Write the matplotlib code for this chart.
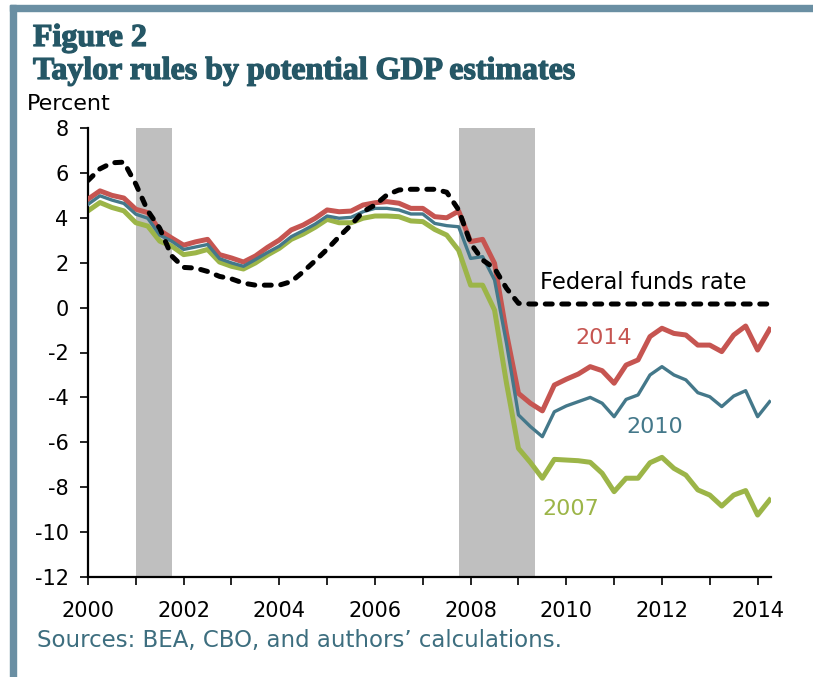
import numpy as np
import matplotlib
matplotlib.use("Agg")
import matplotlib.pyplot as plt
import matplotlib.patheffects as pe
from matplotlib.patches import Rectangle
from matplotlib.ticker import MultipleLocator

plt.rcParams["axes.unicode_minus"] = False

# quarterly observations, 2000Q1 .. 2014Q2
quarters = 2000 + np.arange(58) * 0.25

taylor_2014 = [4.83, 5.2, 5.0, 4.88,
               4.38, 4.23, 3.44, 3.1,
               2.78, 2.93, 3.04, 2.36,
               2.21, 2.03, 2.3, 2.68,
               3.01, 3.46, 3.68, 3.98,
               4.35, 4.27, 4.3, 4.57,
               4.67, 4.72, 4.65, 4.42,
               4.42, 4.05, 4.0, 4.3,
               2.94, 3.04, 1.97, -1.15,
               -3.82, -4.26, -4.6, -3.45,
               -3.19, -2.96, -2.63, -2.81,
               -3.37, -2.56, -2.33, -1.29,
               -0.92, -1.15, -1.22, -1.67,
               -1.67, -1.96, -1.22, -0.82,
               -1.89, -0.97]

taylor_2010 = [4.6, 4.98, 4.79, 4.64,
               4.16, 3.98, 3.23, 2.96,
               2.59, 2.7, 2.81, 2.18,
               1.99, 1.84, 2.14, 2.45,
               2.74, 3.16, 3.43, 3.72,
               4.08, 3.98, 4.02, 4.27,
               4.42, 4.42, 4.35, 4.17,
               4.17, 3.75, 3.65, 3.6,
               2.19, 2.27, 1.23, -1.59,
               -4.78, -5.3, -5.75, -4.64,
               -4.38, -4.19, -4.0, -4.26,
               -4.86, -4.09, -3.89, -3.0,
               -2.63, -3.0, -3.22, -3.79,
               -3.97, -4.41, -3.94, -3.7,
               -4.86, -4.19]

taylor_2007 = [4.31, 4.68, 4.46, 4.31,
               3.78, 3.63, 2.96, 2.74,
               2.36, 2.44, 2.59, 2.03,
               1.84, 1.72, 1.99, 2.34,
               2.64, 3.04, 3.28, 3.58,
               3.93, 3.78, 3.78, 3.98,
               4.08, 4.08, 4.05, 3.86,
               3.83, 3.48, 3.23, 2.55,
               1.0, 1.0, -0.11, -3.37,
               -6.27, -6.9, -7.6, -6.76,
               -6.79, -6.82, -6.89, -7.38,
               -8.2, -7.6, -7.6, -6.91,
               -6.67, -7.16, -7.46, -8.12,
               -8.35, -8.84, -8.35, -8.15,
               -9.24, -8.57]

fed_funds = [5.66, 6.18, 6.45, 6.48,
             5.5, 4.31, 3.53, 2.3,
             1.79, 1.76, 1.61, 1.39,
             1.28, 1.09, 1.0, 1.0,
             1.0, 1.16, 1.6, 2.09,
             2.6, 3.16, 3.68, 4.27,
             4.57, 5.02, 5.24, 5.27,
             5.27, 5.27, 5.14, 4.35,
             2.86, 2.12, 1.75, 0.86,
             0.19, 0.16, 0.16, 0.16,
             0.16, 0.16, 0.16, 0.16,
             0.16, 0.16, 0.16, 0.16,
             0.16, 0.16, 0.16, 0.16,
             0.16, 0.16, 0.16, 0.16,
             0.16, 0.16]

recessions = [(2001.0, 2001.75), (2007.75, 2009.35)]

red = "#C65551"
blue = "#44788A"
green = "#9CB548"
teal = "#255766"
band = "#6A8FA3"

W, H = 813, 677
fig = plt.figure(figsize=(W / 100, H / 100), dpi=100)


def fx(px):
    return px / W


def fy(py):
    return 1 - py / H


# frame bands
fig.patches.append(Rectangle((fx(10), 0), fx(6), fy(5), transform=fig.transFigure,
                             color=band, zorder=0))
fig.patches.append(Rectangle((fx(10), fy(11)), 1, 6 / H, transform=fig.transFigure,
                             color=band, zorder=0))

ax = fig.add_axes([fx(88), fy(577), fx(771) - fx(88), fy(128) - fy(577)])

for start, end in recessions:
    ax.axvspan(start, end, color="#BFBFBF", lw=0, zorder=0)

ax.plot(quarters, taylor_2007, color=green, lw=3.6, zorder=2)
ax.plot(quarters, taylor_2014, color=red, lw=3.6, zorder=3)
ax.plot(quarters, taylor_2010, color=blue, lw=2.4, zorder=4)
ax.plot(quarters, fed_funds, color="black", lw=3.6, linestyle=(0, (1.4, 1.9)),
        dash_capstyle="round", zorder=5)

ax.set_xlim(2000, 2014.28)
ax.set_ylim(-12, 8)
ax.set_yticks(np.arange(-12, 9, 2))
ax.xaxis.set_major_locator(MultipleLocator(2))
ax.xaxis.set_minor_locator(MultipleLocator(1))

for side in ["top", "right"]:
    ax.spines[side].set_visible(False)
for side in ["left", "bottom"]:
    ax.spines[side].set_linewidth(1.6)

ax.tick_params(axis="both", which="both", direction="out", length=6, width=1.2,
               labelsize=15, color="black")
ax.tick_params(axis="x", pad=11)
ax.tick_params(axis="y", pad=8)

ax.text(2009.44, 1.1, "Federal funds rate", fontsize=16.3, color="black", ha="left", va="center")
ax.text(2010.78, -1.35, "2014", fontsize=16, color=red, ha="center", va="center")
ax.text(2011.85, -5.32, "2010", fontsize=16, color=blue, ha="center", va="center")
ax.text(2010.09, -8.97, "2007", fontsize=16, color=green, ha="center", va="center")

heavy = [pe.withStroke(linewidth=0.9, foreground=teal)]
fig.text(fx(33), fy(46), "Figure 2", fontsize=23, fontweight="bold",
         family="Liberation Serif", color=teal, ha="left", va="baseline", path_effects=heavy)
fig.text(fx(33), fy(79), "Taylor rules by potential GDP estimates", fontsize=23,
         fontweight="bold", family="Liberation Serif", color=teal, ha="left", va="baseline",
         path_effects=heavy)
fig.text(fx(27), fy(104), "Percent", fontsize=16, color="black", ha="left", va="center")
fig.text(fx(37), fy(640), "Sources: BEA, CBO, and authors\u2019 calculations.", fontsize=16.5,
         color="#3D6E7F", ha="left", va="center")

fig.savefig("out.png", dpi=100, facecolor="white")
